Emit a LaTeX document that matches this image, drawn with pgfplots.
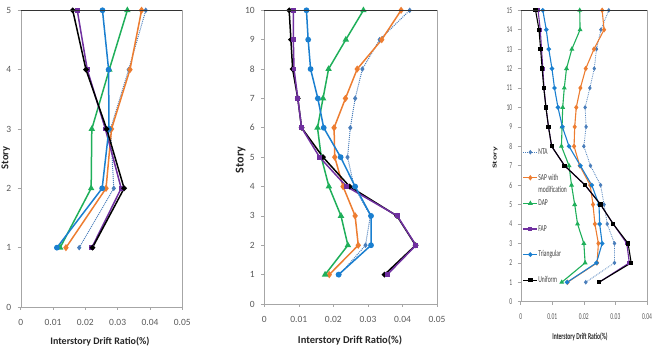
\documentclass[border=0pt]{standalone}
\usepackage{pgfplots}
\pgfplotsset{compat=1.18}
\usepackage{fontspec}
\setmainfont{Carlito}
\definecolor{cNTA}{HTML}{4A7EBB}
\definecolor{cSAP}{HTML}{ED7D31}
\definecolor{cDAP}{HTML}{1FAF5A}
\definecolor{cFAP}{HTML}{7030A0}
\definecolor{cTri}{HTML}{1A7FD0}
\definecolor{tickgray}{HTML}{595959}
\newcommand{\sq}[1]{\scalebox{0.62}[1]{#1}}
\pgfplotsset{
  excel/.style={
    scale only axis,
    scaled ticks=false,
    axis line style={draw=black!35},
    tick style={draw=black!35, line width=0.6pt},
    major tick length=3pt,
    tick align=outside,
    xtick pos=bottom, ytick pos=left,
    tick label style={text=tickgray},
    /pgf/number format/assume math mode=true,
    ymin=0, xmin=0,
    clip=false,
    after end axis/.code={\draw[black!80, line width=0.8pt] (rel axis cs:0,1) -- (rel axis cs:1,1);},
  },
  nta/.style={cNTA, densely dotted, line width=1pt, mark=diamond*, mark size=2pt, mark options={solid}},
  sap/.style={cSAP, line width=1.5pt, mark=diamond*, mark size=2.4pt},
  dap/.style={cDAP, line width=1.5pt, mark=triangle*, mark size=2.3pt},
  fap/.style={cFAP, line width=1.5pt, mark=square*, mark size=1.7pt},
  tri/.style={cTri, line width=1.5pt, mark=*, mark size=2.1pt},
  uni/.style={black, line width=1.5pt, mark=*, mark size=1.9pt},
}
\begin{document}
\begin{tikzpicture}
\path[use as bounding box] (0pt,0pt) rectangle (653pt,350pt);
% ---------------- Panel 1: 5 stories
\begin{axis}[excel, at={(20.7pt,43pt)}, anchor=south west,
  width=161.6pt, height=296.7pt, xmax=0.05, ymax=5,
  xtick={0,0.01,0.02,0.03,0.04,0.05}, xticklabels={0,0.01,0.02,0.03,0.04,0.05},
  ytick={0,1,2,3,4,5},
  tick label style={font=\fontsize{9.5}{11}\selectfont},
  xticklabel style={yshift=-6pt}, yticklabel style={xshift=-3pt}]
\addplot[nta] coordinates {(0.0181,1)(0.0288,2)(0.0278,3)(0.0334,4)(0.0387,5)};
\addplot[sap] coordinates {(0.0140,1)(0.0264,2)(0.0281,3)(0.0338,4)(0.0374,5)};
\addplot[dap] coordinates {(0.0122,1)(0.0218,2)(0.0220,3)(0.0274,4)(0.0330,5)};
\addplot[fap] coordinates {(0.0220,1)(0.0311,2)(0.0262,3)(0.0206,4)(0.0175,5)};
\addplot[tri] coordinates {(0.0112,1)(0.0252,2)(0.0273,3)(0.0272,4)(0.0253,5)};
\addplot[uni] coordinates {(0.0222,1)(0.0320,2)(0.0266,3)(0.0202,4)(0.0161,5)};
\end{axis}
\node[font=\fontsize{10}{12}\selectfont\bfseries, text=black!85] at (100pt,8pt) {Interstory Drift Ratio(\%)};
\node[font=\fontsize{10.5}{12}\selectfont\bfseries, text=black!85, rotate=90] at (5.8pt,192pt) {Story};
% ---------------- Panel 2: 10 stories
\begin{axis}[excel, at={(264.3pt,46pt)}, anchor=south west,
  width=172.7pt, height=293.7pt, xmax=0.05, ymax=10,
  xtick={0,0.01,0.02,0.03,0.04,0.05}, xticklabels={0,0.01,0.02,0.03,0.04,0.05},
  ytick={0,1,...,10},
  tick label style={font=\fontsize{9.5}{11}\selectfont},
  xticklabel style={yshift=-6pt}, yticklabel style={xshift=-3pt}]
\addplot[nta] coordinates {(0.0218,1)(0.0293,2)(0.0307,3)(0.0260,4)(0.0241,5)(0.0249,6)(0.0263,7)(0.0284,8)(0.0334,9)(0.0421,10)};
\addplot[sap] coordinates {(0.0188,1)(0.0272,2)(0.0263,3)(0.0228,4)(0.0204,5)(0.0202,6)(0.0235,7)(0.0269,8)(0.0340,9)(0.0396,10)};
\addplot[dap] coordinates {(0.0176,1)(0.0242,2)(0.0222,3)(0.0187,4)(0.0165,5)(0.0154,6)(0.0170,7)(0.0186,8)(0.0236,9)(0.0287,10)};
\addplot[uni] coordinates {(0.0348,1)(0.0438,2)(0.0384,3)(0.0247,4)(0.0170,5)(0.0108,6)(0.0097,7)(0.0082,8)(0.0077,9)(0.0072,10)};
\addplot[fap] coordinates {(0.0356,1)(0.0439,2)(0.0385,3)(0.0238,4)(0.0160,5)(0.0108,6)(0.0097,7)(0.0086,8)(0.0084,9)(0.0084,10)};
\addplot[tri] coordinates {(0.0215,1)(0.0309,2)(0.0309,3)(0.0263,4)(0.0221,5)(0.0172,6)(0.0155,7)(0.0134,8)(0.0127,9)(0.0122,10)};
\end{axis}
\node[font=\fontsize{10.5}{12}\selectfont\bfseries, text=black!85] at (350pt,10pt) {Interstory Drift Ratio(\%)};
\node[font=\fontsize{12}{14}\selectfont\bfseries, text=black!85, rotate=90] at (240.7pt,190pt) {Story};
% ---------------- Panel 3: 15 stories
\begin{axis}[excel, at={(520.7pt,48.3pt)}, anchor=south west,
  width=126.3pt, height=291.4pt, xmax=0.04, ymax=15,
  xtick={0,0.01,0.02,0.03,0.04}, xticklabels={\sq{0},\sq{0.01},\sq{0.02},\sq{0.03},\sq{0.04}},
  ytick={0,1,...,15}, yticklabels={\sq{0},\sq{1},\sq{2},\sq{3},\sq{4},\sq{5},\sq{6},\sq{7},\sq{8},\sq{9},\sq{10},\sq{11},\sq{12},\sq{13},\sq{14},\sq{15}},
  tick label style={font=\fontsize{9}{10}\selectfont},
  xticklabel style={yshift=-5pt}, yticklabel style={xshift=-2pt},
  legend image code/.code={\draw[mark repeat=2,mark phase=2,#1] plot coordinates {(0pt,0pt) (7pt,0pt) (14pt,0pt)};},
  legend cell align=left,
  legend style={at={(0.015,0.5357)}, anchor=north west, draw=none, fill=none,
    font=\fontsize{9}{10}\selectfont, text=black!75, row sep=0pt, inner sep=0pt,
    nodes={inner sep=0.5pt, minimum height=12.8pt},
    /tikz/every even column/.append style={column sep=0pt}},
  nta/.append style={line width=0.8pt, mark size=1.7pt},
  sap/.append style={line width=1.1pt, mark size=1.9pt},
  dap/.append style={line width=1.1pt, mark size=1.8pt},
  fap/.append style={line width=1.1pt, mark size=1.4pt},
  tri/.append style={line width=1.1pt, mark size=1.7pt},
  uni/.append style={line width=1.1pt, mark=square*, mark size=1.6pt}]
\addplot[nta] coordinates {(0.0206,1)(0.0297,2)(0.0297,3)(0.0274,4)(0.0264,5)(0.0253,6)(0.0221,7)(0.0200,8)(0.0207,9)(0.0204,10)(0.0219,11)(0.0233,12)(0.0240,13)(0.0254,14)(0.0279,15)};
\addlegendentry{\sq{NTA}}
\addlegendimage{empty legend}\addlegendentry{}
\addplot[sap] coordinates {(0.0148,1)(0.0242,2)(0.0246,3)(0.0235,4)(0.0229,5)(0.0220,6)(0.0187,7)(0.0169,8)(0.0171,9)(0.0176,10)(0.0189,11)(0.0206,12)(0.0232,13)(0.0264,14)(0.0258,15)};
\addlegendentry{\sq{SAP with}}
\addlegendimage{empty legend}\addlegendentry{\sq{modification}}
\addplot[dap] coordinates {(0.0130,1)(0.0204,2)(0.0200,3)(0.0180,4)(0.0171,5)(0.0161,6)(0.0153,7)(0.0129,8)(0.0131,9)(0.0133,10)(0.0138,11)(0.0145,12)(0.0162,13)(0.0188,14)(0.0187,15)};
\addlegendentry{\sq{DAP}}
\addlegendimage{empty legend}\addlegendentry{}
\addplot[fap] coordinates {(0.0248,1)(0.0344,2)(0.0336,3)(0.0293,4)(0.0253,5)(0.0204,6)(0.0139,7)(0.0098,8)(0.0088,9)(0.0080,10)(0.0074,11)(0.0070,12)(0.0066,13)(0.0062,14)(0.0055,15)};
\addlegendentry{\sq{FAP}}
\addlegendimage{empty legend}\addlegendentry{}
\addplot[tri] coordinates {(0.0147,1)(0.0240,2)(0.0258,3)(0.0250,4)(0.0248,5)(0.0225,6)(0.0189,7)(0.0153,8)(0.0132,9)(0.0118,10)(0.0107,11)(0.0099,12)(0.0089,13)(0.0081,14)(0.0070,15)};
\addlegendentry{\sq{Triangular}}
\addlegendimage{empty legend}\addlegendentry{}
\addplot[uni] coordinates {(0.0248,1)(0.0350,2)(0.0340,3)(0.0293,4)(0.0253,5)(0.0204,6)(0.0139,7)(0.0098,8)(0.0088,9)(0.0080,10)(0.0073,11)(0.0068,12)(0.0063,13)(0.0058,14)(0.0047,15)};
\addlegendentry{\sq{Uniform}}
\end{axis}
\node[font=\fontsize{9}{10}\selectfont\bfseries, text=black!85] at (580pt,13pt) {\sq{Interstory Drift Ratio(\%)}};
\node[font=\fontsize{10}{12}\selectfont\bfseries, text=black!85, xscale=0.6, rotate=90] at (495pt,192pt) {Story};
\end{tikzpicture}
\end{document}
